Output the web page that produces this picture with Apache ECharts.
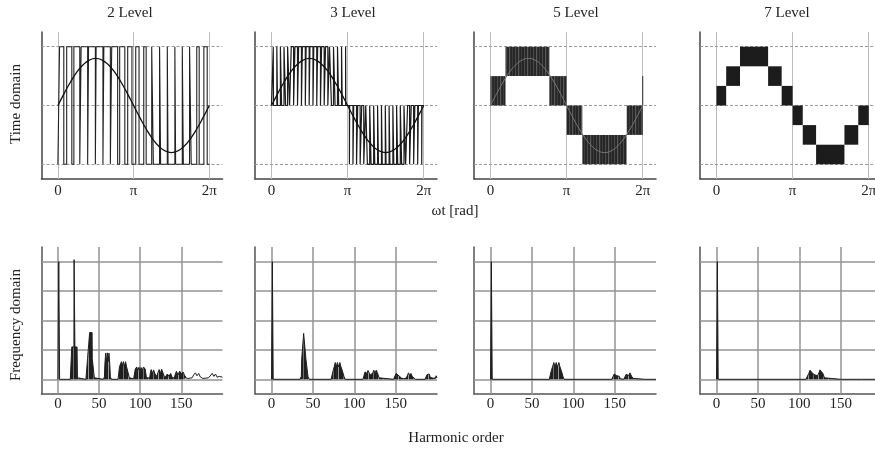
<!DOCTYPE html>
<html><head><meta charset="utf-8">
<script src="https://cdn.jsdelivr.net/npm/echarts@6/dist/echarts.min.js"></script>
<style>html,body{margin:0;padding:0;background:#fff}#c{width:875px;height:450px}</style>
</head><body><div id="c"></div>
<script>
// ---------- data ----------
const panelTitles = ['2 Level', '3 Level', '5 Level', '7 Level'];
const timeTickLabels = ['0', 'π', '2π'];
const timeTickValues = [0, Math.PI, 2 * Math.PI];
const timeLevels = [-1, 0, 1];
const freqTickValues = [0, 50, 100, 150];
const freqGridLevels = [0, 1, 2, 3, 4];

// reference sine, sampled every 15 degrees over one period
const sineRef = [0, 0.207, 0.4, 0.566, 0.693, 0.773, 0.8, 0.773, 0.693, 0.566, 0.4, 0.207, 0,
  -0.207, -0.4, -0.566, -0.693, -0.773, -0.8, -0.773, -0.693, -0.566, -0.4, -0.207, 0];

// 2-level: fraction of each carrier period spent at +1 (20 carrier periods)
const duty2 = [0.56, 0.68, 0.78, 0.86, 0.90, 0.90, 0.86, 0.78, 0.68, 0.56,
  0.44, 0.32, 0.22, 0.14, 0.10, 0.10, 0.14, 0.22, 0.32, 0.44];

// 3-level: pulse width fraction in each half-carrier slot (40 slots, + half then - half)
const width3 = [0.06, 0.19, 0.31, 0.42, 0.52, 0.61, 0.68, 0.74, 0.78, 0.80,
  0.80, 0.78, 0.74, 0.68, 0.61, 0.52, 0.42, 0.31, 0.19, 0.06,
  0.06, 0.19, 0.31, 0.42, 0.52, 0.61, 0.68, 0.74, 0.78, 0.80,
  0.80, 0.78, 0.74, 0.68, 0.61, 0.52, 0.42, 0.31, 0.19, 0.06];

// 5-level / 7-level switching bands: [t start, t end, level low, level high]
const blocks5 = [[0, 0.62, 0, 0.5], [0.62, 2.43, 0.5, 1], [2.43, 3.1416, 0, 0.5],
  [3.1416, 3.79, -0.5, 0], [3.79, 5.62, -1, -0.5], [5.62, 6.2832, -0.5, 0]];
const edge5 = [[6.2832, 0], [6.2832, 0.5]];
const blocks7 = [[0, 0.40, 0, 0.3333], [0.40, 0.97, 0.3333, 0.6667], [0.97, 2.13, 0.6667, 1],
  [2.13, 2.69, 0.3333, 0.6667], [2.69, 3.1416, 0, 0.3333],
  [3.1416, 3.56, -0.3333, 0], [3.56, 4.11, -0.6667, -0.3333], [4.11, 5.28, -1, -0.6667],
  [5.28, 5.85, -0.6667, -0.3333], [5.85, 6.2832, -0.3333, 0]];

// harmonic spectra: [harmonic order, amplitude]
const spec2 = [[0, 0], [1, 4], [2, 0],
  [15, 0], [16.3, 0.05], [16.8, 1.1], [19.4, 1.1], [19.6, 4.07], [20.4, 4.07], [20.6, 1.1], [23.2, 1.1], [23.7, 0.05], [25, 0],
  [34, 0], [35.6, 0.05], [36, 0.71], [38.3, 0.71], [38.5, 1.59], [41.5, 1.59], [41.7, 0.71], [43.8, 0.71], [44.2, 0.05], [46, 0],
  [55, 0], [56.5, 0.08], [57, 0.5], [58, 0.89], [59, 0.6], [60, 0.9], [61, 0.6], [62, 0.89], [63, 0.5], [63.7, 0.08], [65, 0],
  [73, 0], [74.3, 0.05], [74.8, 0.43], [76.5, 0.45], [77.2, 0.6], [78.3, 0.45], [79.5, 0.6], [80.7, 0.45], [82.2, 0.6], [83.2, 0.45], [85.3, 0.43], [86.8, 0.05], [88, 0.02],
  [92, 0.02], [93.5, 0.05], [94, 0.35], [95.8, 0.42], [97, 0.3], [98.5, 0.41], [99.6, 0.26], [101, 0.4], [102.5, 0.3], [104, 0.42], [106, 0.35], [107.6, 0.05], [110, 0.03],
  [111.5, 0.05], [112.3, 0.22], [113.3, 0.33], [115, 0.2], [116.2, 0.32], [118, 0.18], [120, 0.1], [121.5, 0.22], [123, 0.33], [124.7, 0.2], [126, 0.34], [128, 0.2], [129.8, 0.05],
  [131.5, 0.04], [133, 0.18], [135, 0.1], [137, 0.2], [139, 0.05], [141.5, 0.06], [142.5, 0.16], [144, 0.27], [146, 0.15], [148, 0.28], [150, 0.17], [152, 0.25], [154, 0.13], [156, 0.04],
  [158, 0.03]];
// 2-level high-order tail, drawn as an open trace
const spec2Tail = [[158, 0.03], [160, 0.03], [163, 0.05], [165, 0.15], [167, 0.22], [169, 0.12], [171, 0.2], [173, 0.08], [176, 0.03],
  [180, 0.04], [183, 0.05], [185, 0.1], [187.5, 0.2], [189.5, 0.1], [191.5, 0.18], [193.5, 0.07], [196, 0.1], [198, 0.05], [200, 0.07]];
const spec3 = [[0, 0], [1, 4], [2, 0],
  [34.5, 0], [36, 0.1], [36.5, 0.7], [38.5, 0.7], [38.8, 1.56], [41.2, 1.56], [41.5, 0.7], [43.5, 0.7], [44, 0.1], [45.5, 0],
  [72, 0], [73.5, 0.05], [74.5, 0.3], [76, 0.45], [77, 0.57], [78.2, 0.42], [79.6, 0.57], [81, 0.42], [82.6, 0.57], [83.6, 0.45], [85.5, 0.3], [87.5, 0.1], [88.8, 0],
  [110.5, 0], [112, 0.05], [113, 0.25], [114, 0.31], [115.5, 0.2], [116.6, 0.3], [118, 0.22], [119.6, 0.15], [121, 0.12], [122.5, 0.22], [123.6, 0.31], [125, 0.2], [126.5, 0.31], [128, 0.22], [130, 0.05], [131.5, 0],
  [147.5, 0], [149, 0.05], [150.5, 0.2], [151.5, 0.14], [152.6, 0.22], [154, 0.12], [155.5, 0.15], [157, 0.04], [160, 0.02], [163, 0.05], [164.5, 0.15], [165.6, 0.22], [167, 0.12], [168.5, 0.2], [170, 0.1], [172, 0.08], [174, 0],
  [185.5, 0], [187, 0.05], [188, 0.16], [189.5, 0.1], [190.5, 0.18], [192, 0.06], [193.5, 0.12], [195, 0.04], [196.5, 0.1], [198, 0.04], [199, 0.12], [200, 0.05]];
const spec5 = [[0, 0], [1, 4], [2, 0],
  [71, 0], [72.5, 0.05], [73.5, 0.3], [75.2, 0.45], [76.5, 0.57], [77.8, 0.42], [79.4, 0.57], [80.8, 0.42], [82.6, 0.57], [83.6, 0.45], [85.5, 0.3], [87.5, 0.1], [88.8, 0],
  [146.5, 0], [148, 0.05], [149.5, 0.18], [150.6, 0.22], [152, 0.13], [153.5, 0.18], [155.5, 0.1], [157, 0.02], [161, 0], [162.5, 0.06], [164, 0.17], [165.5, 0.23], [167, 0.13], [168.5, 0.22], [170.5, 0.1], [172.5, 0.03], [174, 0],
  [187, 0], [200, 0]];
const spec7 = [[0, 0], [1, 4], [2, 0],
  [108, 0], [109.8, 0.05], [111.5, 0.2], [113, 0.31], [115, 0.31], [116.2, 0.2], [117.6, 0.22], [119, 0.15], [120.5, 0.2], [122, 0.12], [123.8, 0.22], [125, 0.32], [127, 0.3], [128.5, 0.2], [130.5, 0.05], [132, 0],
  [150, 0], [175, 0], [200, 0]];

// ---------- build ----------
const TWO_PI = 2 * Math.PI;
const sineData = sineRef.map((v, i) => [i * TWO_PI / (sineRef.length - 1), v]);

const T2 = TWO_PI / duty2.length;
const pwm2 = [[0, -1]];
duty2.forEach((d, k) => {
  const c = (k + 0.5) * T2, h = d * T2 / 2;
  pwm2.push([c - h, -1], [c - h, 1], [c + h, 1], [c + h, -1]);
});
pwm2.push([TWO_PI, -1]);

const T3 = TWO_PI / width3.length;
const pwm3 = [[0, 0]];
width3.forEach((w, k) => {
  const s = k < width3.length / 2 ? 1 : -1;
  const c = (k + 0.5) * T3, h = w * T3 / 2;
  pwm3.push([c - h, 0], [c - h, s], [c + h, s], [c + h, 0]);
});
pwm3.push([TWO_PI, 0]);

// striped fill patterns imitating densely switched traces
function stripePattern(colors) {
  const cv = document.createElement('canvas');
  cv.width = colors.length; cv.height = 4;
  const g = cv.getContext('2d');
  colors.forEach((c, i) => { g.fillStyle = c; g.fillRect(i, 0, 1, 4); });
  return { image: cv, repeat: 'repeat' };
}
const stripes5 = stripePattern(['#262626', '#262626', '#4a4a4a', '#2a2a2a', '#262626', '#5a5a5a', '#303030', '#262626', '#3c3c3c']);
const stripesSpec = stripePattern(['#1e1e1e', '#1e1e1e', '#1e1e1e', '#6e6e6e', '#1e1e1e', '#1e1e1e', '#2a2a2a', '#1e1e1e', '#9a9a9a', '#1e1e1e']);

const FONT = "'Liberation Serif', 'Times New Roman', serif";
const TXT = '#222';
const cols = [{ left: 41.5, width: 181 }, { left: 255, width: 182 }, { left: 474, width: 182 }, { left: 700, width: 182 }];
const grids = [], xAxes = [], yAxes = [], series = [];

cols.forEach(c => grids.push({ left: c.left, top: 32, width: c.width, height: 147, outerBoundsMode: 'none', containLabel: false }));
cols.forEach(c => grids.push({ left: c.left, top: 247, width: c.width, height: 147, outerBoundsMode: 'none', containLabel: false }));

for (let i = 0; i < 4; i++) {
  xAxes.push({
    type: 'value', gridIndex: i, min: -0.68, max: 6.83,
    axisLine: { onZero: false, lineStyle: { color: '#444', width: 1.5 } },
    axisTick: { show: false }, splitLine: { show: false },
    axisLabel: {
      customValues: timeTickValues, margin: 5, color: TXT, fontFamily: FONT, fontSize: 15,
      formatter: v => { const k = timeTickValues.findIndex(t => Math.abs(t - v) < 1e-6); return k >= 0 ? timeTickLabels[k] : ''; }
    }
  });
  yAxes.push({
    type: 'value', gridIndex: i, min: -1.25, max: 1.25,
    axisLine: { onZero: false, lineStyle: { color: '#444', width: 1.5 } },
    axisTick: { show: false }, splitLine: { show: false }, axisLabel: { show: false }
  });
}
for (let i = 0; i < 4; i++) {
  xAxes.push({
    type: 'value', gridIndex: 4 + i, min: -20, max: 200,
    axisLine: { onZero: false, lineStyle: { color: '#555', width: 1.5 } },
    axisTick: { show: false }, splitLine: { show: false },
    axisLabel: { customValues: freqTickValues, margin: 3, color: TXT, fontFamily: FONT, fontSize: 15 }
  });
  yAxes.push({
    type: 'value', gridIndex: 4 + i, min: -0.5, max: 4.5,
    axisLine: { onZero: false, lineStyle: { color: '#555', width: 1.5 } },
    axisTick: { show: false }, splitLine: { show: false }, axisLabel: { show: false }
  });
}

// grid line holders
for (let i = 0; i < 4; i++) {
  series.push({
    type: 'line', xAxisIndex: i, yAxisIndex: i, data: [], silent: true,
    markLine: {
      silent: true, symbol: 'none', z: 1, label: { show: false }, animation: false,
      data: [
        ...timeTickValues.map(v => ({ xAxis: v, lineStyle: { color: '#bdbdbd', width: 1, type: 'solid' } })),
        ...timeLevels.map(v => ({ yAxis: v, lineStyle: { color: '#9a9a9a', width: 1, type: [3, 2] } }))
      ]
    }
  });
  series.push({
    type: 'line', xAxisIndex: 4 + i, yAxisIndex: 4 + i, data: [], silent: true,
    markLine: {
      silent: true, symbol: 'none', z: 1, label: { show: false }, animation: false,
      data: [
        ...freqTickValues.map(v => ({ xAxis: v, lineStyle: { color: '#939393', width: 1.5, type: 'solid' } })),
        ...freqGridLevels.map(v => ({ yAxis: v, lineStyle: { color: '#939393', width: 1.5, type: 'solid' } }))
      ]
    }
  });
}

const lineS = (xi, data, color, width, z) => ({
  type: 'line', xAxisIndex: xi, yAxisIndex: xi, data, showSymbol: false, silent: true, z,
  lineStyle: { color, width }, animation: false
});
const blockS = (xi, data, fill) => ({
  type: 'custom', xAxisIndex: xi, yAxisIndex: xi, data, silent: true, z: 2, animation: false,
  encode: { x: [0, 1], y: [2, 3] },
  renderItem: (p, api) => {
    const a = api.coord([api.value(0), api.value(3)]);
    const b = api.coord([api.value(1), api.value(2)]);
    return { type: 'rect', shape: { x: a[0], y: a[1], width: b[0] - a[0], height: b[1] - a[1] }, style: { fill } };
  }
});

series.push(lineS(0, pwm2, '#222', 1.1, 2));
series.push(Object.assign(lineS(0, sineData, '#111', 1.3, 3), { smooth: true }));
series.push(lineS(1, pwm3, '#1c1c1c', 1.2, 2));
series.push(Object.assign(lineS(1, sineData, '#111', 1.3, 3), { smooth: true }));
series.push(blockS(2, blocks5, stripes5));
series.push(lineS(2, edge5, '#2a2a2a', 1, 3));
series.push(Object.assign(lineS(2, sineData, '#777', 1, 4), { smooth: true }));
series.push(blockS(3, blocks7, '#1c1c1c'));

[spec2, spec3, spec5, spec7].forEach((d, i) => {
  const s = lineS(4 + i, d, '#1e1e1e', 1, 2);
  s.areaStyle = { color: stripesSpec, opacity: 1, origin: 0 };
  series.push(s);
});
series.push(lineS(4, spec2Tail, '#1e1e1e', 1, 2));

const texts = [];
const titleX = [130, 353, 576, 787];
panelTitles.forEach((t, i) => texts.push({ type: 'text', x: titleX[i], y: 13, style: { text: t, font: '15px ' + FONT, fill: TXT, textAlign: 'center', textVerticalAlign: 'middle' } }));
texts.push({ type: 'text', x: 16, y: 104, rotation: Math.PI / 2, style: { text: 'Time domain', font: '15px ' + FONT, fill: TXT, textAlign: 'center', textVerticalAlign: 'middle' } });
texts.push({ type: 'text', x: 16, y: 325, rotation: Math.PI / 2, style: { text: 'Frequency domain', font: '15px ' + FONT, fill: TXT, textAlign: 'center', textVerticalAlign: 'middle' } });
texts.push({ type: 'text', x: 455, y: 211, style: { text: 'ωt [rad]', font: '15px ' + FONT, fill: TXT, textAlign: 'center', textVerticalAlign: 'middle' } });
texts.push({ type: 'text', x: 456, y: 438, style: { text: 'Harmonic order', font: '15px ' + FONT, fill: TXT, textAlign: 'center', textVerticalAlign: 'middle' } });

const chart = echarts.init(document.getElementById('c'), null, { renderer: 'canvas' });
chart.setOption({
  animation: false, backgroundColor: '#fff',
  grid: grids, xAxis: xAxes, yAxis: yAxes, series,
  graphic: texts
});
</script></body></html>
